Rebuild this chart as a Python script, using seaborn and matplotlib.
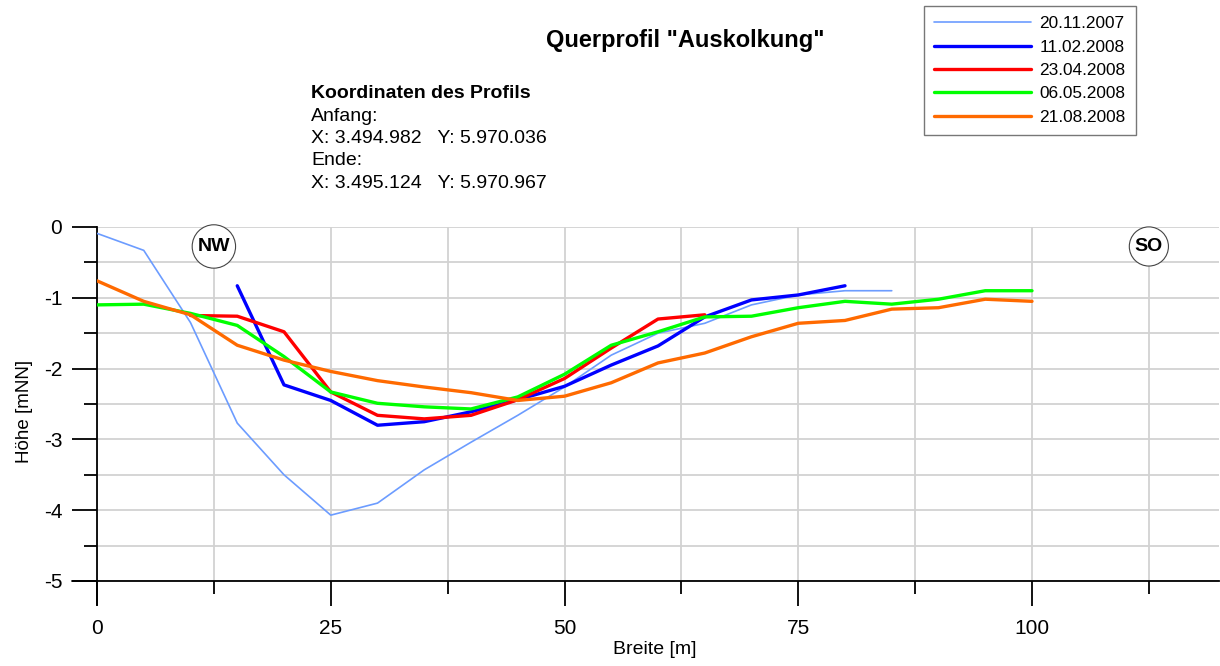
import matplotlib
matplotlib.use("Agg")
import matplotlib.pyplot as plt
from matplotlib.lines import Line2D
from matplotlib.ticker import MultipleLocator
import seaborn as sns
import pandas as pd

# Survey dates and cross-section profiles (distance [m], elevation [mNN])
dates = ["20.11.2007", "11.02.2008", "23.04.2008", "06.05.2008", "21.08.2008"]

x_20112007 = [0, 5, 10, 15, 20, 25, 30, 35, 40, 45, 50, 55, 60, 65, 70, 75, 80, 85]
h_20112007 = [-0.09, -0.33, -1.35, -2.77, -3.5, -4.07, -3.9, -3.43, -3.04, -2.66, -2.26,
              -1.81, -1.5, -1.36, -1.1, -0.96, -0.9, -0.9]

x_11022008 = [15, 20, 25, 30, 35, 40, 45, 50, 55, 60, 65, 70, 75, 80]
h_11022008 = [-0.83, -2.23, -2.45, -2.8, -2.75, -2.61, -2.44, -2.25, -1.95, -1.68,
              -1.27, -1.03, -0.96, -0.83]

x_23042008 = [10, 15, 20, 25, 30, 35, 40, 45, 50, 55, 60, 65]
h_23042008 = [-1.25, -1.26, -1.48, -2.33, -2.66, -2.71, -2.66, -2.44, -2.14, -1.71,
              -1.3, -1.24]

x_06052008 = [0, 5, 10, 15, 20, 25, 30, 35, 40, 45, 50, 55, 60, 65, 70, 75, 80, 85, 90, 95, 100]
h_06052008 = [-1.1, -1.09, -1.22, -1.39, -1.83, -2.33, -2.49, -2.54, -2.57, -2.4, -2.08,
              -1.67, -1.48, -1.27, -1.26, -1.14, -1.05, -1.09, -1.02, -0.9, -0.9]

x_21082008 = [0, 5, 10, 15, 20, 25, 30, 35, 40, 45, 50, 55, 60, 65, 70, 75, 80, 85, 90, 95, 100]
h_21082008 = [-0.76, -1.05, -1.24, -1.67, -1.88, -2.04, -2.17, -2.26, -2.34, -2.45, -2.39,
              -2.2, -1.92, -1.78, -1.55, -1.36, -1.32, -1.16, -1.14, -1.02, -1.05]

xs = [x_20112007, x_11022008, x_23042008, x_06052008, x_21082008]
hs = [h_20112007, h_11022008, h_23042008, h_06052008, h_21082008]

colors = ["#6c9cff", "#0000ff", "#ff0000", "#00ff00", "#ff6a00"]
widths = [1.2, 2.4, 2.4, 2.4, 2.4]

sns.set_theme(style="white")
plt.rcParams["font.family"] = ["Liberation Sans", "DejaVu Sans"]
plt.rcParams["axes.unicode_minus"] = False
plt.rcParams["text.color"] = "black"
plt.rcParams["axes.labelcolor"] = "black"
plt.rcParams["xtick.color"] = "black"
plt.rcParams["ytick.color"] = "black"

fig = plt.figure(figsize=(12.2, 6.66), dpi=100)
ax = fig.add_axes([97 / 1220, 1 - 581 / 666, (1219 - 97) / 1220, (581 - 227) / 666])

for d, x, h, c, w in zip(dates, xs, hs, colors, widths):
    df = pd.DataFrame({"Breite": x, "Hoehe": h})
    sns.lineplot(data=df, x="Breite", y="Hoehe", ax=ax, color=c, linewidth=w,
                 label=d, sort=False, estimator=None, zorder=3)

ax.set_xlim(0, 120)
ax.set_ylim(-5, 0)
ax.xaxis.set_major_locator(MultipleLocator(25))
ax.xaxis.set_minor_locator(MultipleLocator(12.5))
ax.yaxis.set_major_locator(MultipleLocator(1))
ax.yaxis.set_minor_locator(MultipleLocator(0.5))

ax.grid(True, which="both", color="#d2d2d2", linewidth=1.3, zorder=0)
ax.set_axisbelow(True)

for s in ["top", "right"]:
    ax.spines[s].set_visible(False)
for s in ["left", "bottom"]:
    ax.spines[s].set_color("black")
    ax.spines[s].set_linewidth(1.3)

# Axis lines continue past the origin to the tick length
ax.add_line(Line2D([0, 0], [0, -24 / 354], transform=ax.transAxes, color="black",
                   linewidth=1.3, clip_on=False))
ax.add_line(Line2D([0, -25 / 1122], [0, 0], transform=ax.transAxes, color="black",
                   linewidth=1.3, clip_on=False))

ax.tick_params(axis="both", which="major", direction="out", length=18, width=1.3,
               color="black", labelsize=15, bottom=True, left=True)
ax.tick_params(axis="both", which="minor", direction="out", length=9.5, width=1.3,
               color="black", bottom=True, left=True)
ax.tick_params(axis="x", which="major", pad=9)
ax.tick_params(axis="y", which="major", pad=7)
ax.set_xticks([0, 25, 50, 75, 100])
ax.set_xticklabels(["0", "25", "50", "75", "100"])

ax.set_xlabel("Breite [m]", fontsize=14)
ax.set_ylabel("Höhe [mNN]", fontsize=13.5)
ax.xaxis.label.set_va("center")
ax.yaxis.label.set_va("center")
ax.xaxis.set_label_coords(0.497, -(650 - 581) / 354)
ax.yaxis.set_label_coords((25 - 97) / 1122, 0.48)

# Direction markers
for label, xpos in [("NW", 12.5), ("SO", 112.5)]:
    ax.text(xpos, -0.275, label, ha="center", va="center", fontsize=14,
            fontweight="bold", zorder=5,
            bbox=dict(boxstyle="circle,pad=0.28", facecolor="white",
                      edgecolor="#444444", linewidth=0.8))

# Title and profile coordinates
fig.text(685 / 1220, 1 - 40 / 666, 'Querprofil "Auskolkung"', ha="center", va="center",
         fontsize=17, fontweight="bold")
fig.text(311 / 1220, 1 - 93 / 666, "Koordinaten des Profils", ha="left", va="center",
         fontsize=14, fontweight="bold")
info = ["Anfang:", "X: 3.494.982   Y: 5.970.036", "Ende:", "X: 3.495.124   Y: 5.970.967"]
for i, line in enumerate(info):
    fig.text(311 / 1220, 1 - (116.5 + 22.2 * i) / 666, line, ha="left", va="center",
             fontsize=14)

leg = ax.legend(loc="upper left", bbox_to_anchor=(924 / 1220, 1 - 6 / 666),
                bbox_transform=fig.transFigure, fontsize=12.4, frameon=True,
                fancybox=False, edgecolor="#555555", handlelength=5.6,
                handletextpad=0.5, labelspacing=0.48, borderpad=0.6,
                borderaxespad=0)
leg.get_frame().set_linewidth(1.0)

fig.savefig("out.png", dpi=100, facecolor="white")
